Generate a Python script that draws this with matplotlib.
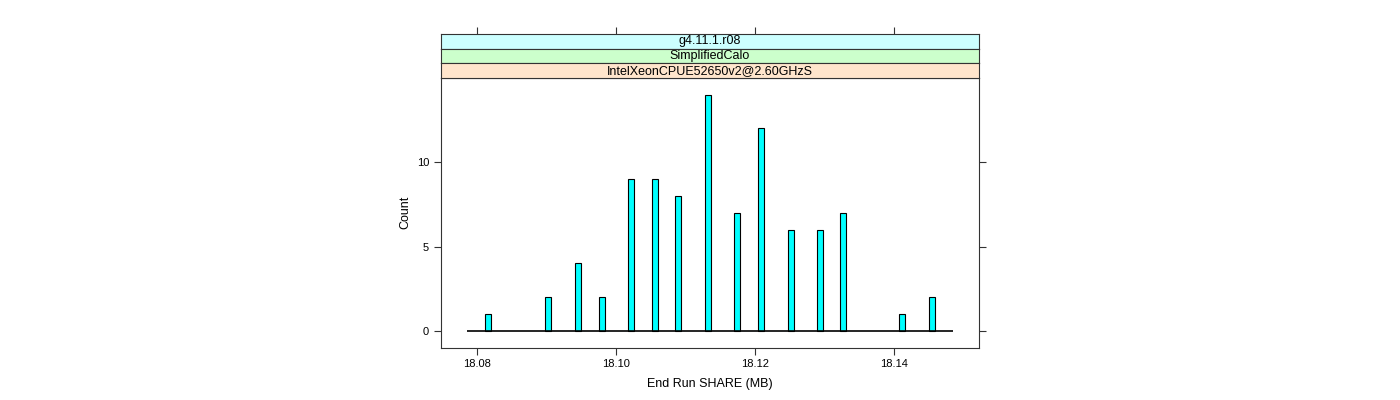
import numpy as np
import matplotlib.pyplot as plt

plt.rcParams['font.family'] = ['Liberation Sans', 'DejaVu Sans']

# bin centres (MB) and counts
share = [18.0816, 18.0902, 18.0945, 18.0979, 18.1021, 18.1056, 18.1089, 18.1132,
         18.1174, 18.1208, 18.1251, 18.1293, 18.1327, 18.1411, 18.1454]
counts = [1, 2, 4, 2, 9, 9, 8, 14, 7, 12, 6, 6, 7, 1, 2]
x_ticks = [18.08, 18.10, 18.12, 18.14]
x_tick_labels = ['18.08', '18.10', '18.12', '18.14']
y_ticks = [0, 5, 10]
strips = ['g4.11.1.r08', 'SimplifiedCalo', 'IntelXeonCPUE52650v2@2.60GHzS']
strip_colors = ['#ccffff', '#ccffcc', '#ffe5cc']

xlim = (18.0748, 18.1522)
ylim = (-0.98, 14.98)
edge = '#333333'

fig = plt.figure(figsize=(14, 4), dpi=100)
left, width = 441 / 1400, 538 / 1400
bottom, top = 1 - 347.5 / 400, 1 - 78 / 400
ax = fig.add_axes([left, bottom, width, top - bottom])

ax.bar(share, counts, width=0.00086, color='#00ffff', edgecolor='black', linewidth=0.8, zorder=2)
ax.hlines(0, 18.0786, 18.1484, color='black', linewidth=1.2, zorder=3)

ax.set_xlim(*xlim)
ax.set_ylim(*ylim)
ax.set_xticks(x_ticks)
ax.set_xticklabels(x_tick_labels)
ax.set_yticks(y_ticks)
ax.tick_params(direction='out', length=5, width=0.8, color=edge, labelsize=8,
               right=True, labelright=False, top=False)
for s in ax.spines.values():
    s.set_color(edge)
    s.set_linewidth(0.8)
ax.set_xlabel('End Run SHARE (MB)', fontsize=9, labelpad=6)
ax.set_ylabel('Count', fontsize=9, labelpad=4)

# strips above the panel
sh = 44 / 400 / 3
for i, (label, col) in enumerate(zip(strips, strip_colors)):
    sb = top + (2 - i) * sh
    sax = fig.add_axes([left, sb, width, sh])
    sax.set_facecolor(col)
    sax.set_xlim(*xlim)
    sax.set_ylim(0, 1)
    sax.text(0.5, 0.5, label, transform=sax.transAxes, ha='center', va='center', fontsize=9)
    for s in sax.spines.values():
        s.set_color(edge)
        s.set_linewidth(0.8)
    sax.set_yticks([])
    if i == 0:
        sax.set_xticks(x_ticks)
        sax.tick_params(axis='x', direction='out', length=5, width=0.8, color=edge,
                        top=True, bottom=False, labeltop=False, labelbottom=False)
    else:
        sax.set_xticks([])

fig.savefig('out.png', dpi=100)
